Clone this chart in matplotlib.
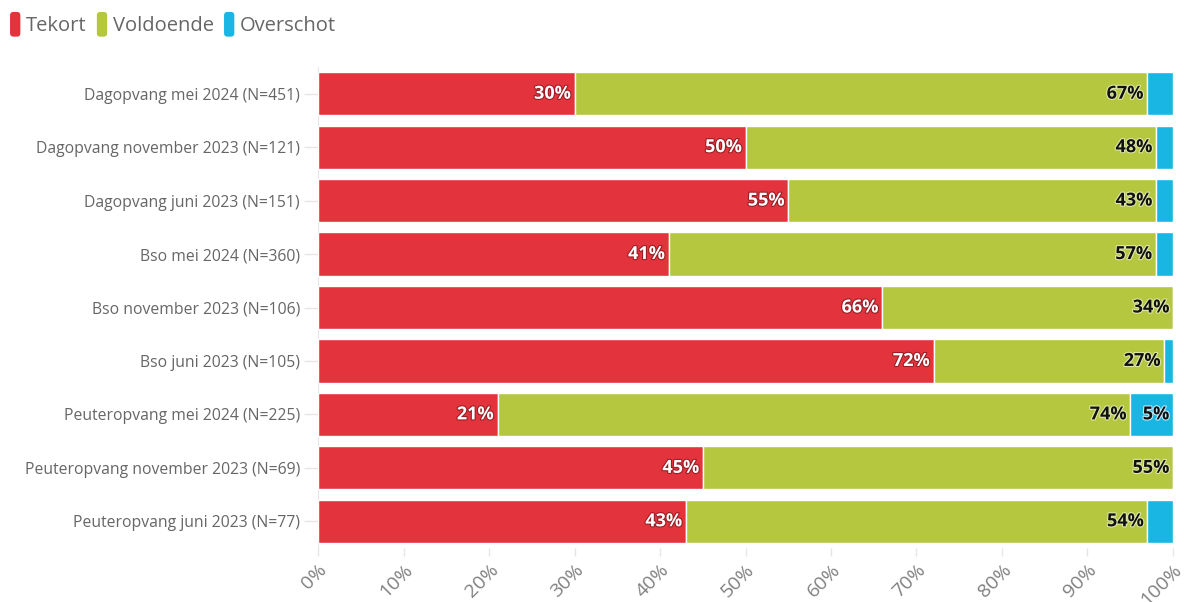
import matplotlib.pyplot as plt
import matplotlib.patheffects as pe
import matplotlib.transforms as mtransforms
from matplotlib.patches import Patch, FancyBboxPatch
from matplotlib.legend_handler import HandlerPatch
from matplotlib.ticker import MultipleLocator, PercentFormatter

plt.rcParams['font.family'] = ['Open Sans', 'DejaVu Sans']

groepen = ['Dagopvang mei 2024 (N=451)', 'Dagopvang november 2023 (N=121)',
           'Dagopvang juni 2023 (N=151)', 'Bso mei 2024 (N=360)',
           'Bso november 2023 (N=106)', 'Bso juni 2023 (N=105)',
           'Peuteropvang mei 2024 (N=225)', 'Peuteropvang november 2023 (N=69)',
           'Peuteropvang juni 2023 (N=77)']
tekort = [30, 50, 55, 41, 66, 72, 21, 45, 43]
voldoende = [67, 48, 43, 57, 34, 27, 74, 55, 54]
overschot = [3, 2, 2, 2, 0, 1, 5, 0, 3]

reeksen = ['Tekort', 'Voldoende', 'Overschot']
kleuren = ['#e3343e', '#b5c73f', '#19b6e3']
labelkleur = ['white', '#111111', '#111111']
randkleur = ['#9b1d24', '#dfe8a8', '#bfe9f6']


class RondHandler(HandlerPatch):
    def create_artists(self, legend, orig_handle, xdescent, ydescent,
                       width, height, fontsize, trans):
        p = FancyBboxPatch((-xdescent + 1, -ydescent - 1), width - 2, height + 2,
                           boxstyle='round,pad=0,rounding_size=2.5',
                           facecolor=orig_handle.get_facecolor(),
                           edgecolor='none', transform=trans)
        return [p]


fig = plt.figure(figsize=(11.84, 6.02), dpi=100)
ax = fig.add_axes([0.2686, 0.0897, 0.7221, 0.799])

y = list(range(len(groepen)))
links = [0] * len(groepen)
for naam, waarden, kleur, lk, rk in zip(reeksen, [tekort, voldoende, overschot],
                                        kleuren, labelkleur, randkleur):
    bars = ax.barh(y, waarden, left=links, height=0.81, color=kleur,
                   edgecolor='white', linewidth=1, label=naam, zorder=3)
    for b, w in zip(bars, waarden):
        if w >= 5:
            ax.text(b.get_x() + b.get_width() - 0.45, b.get_y() + b.get_height() / 2,
                    f'{w}%', ha='right', va='center', color=lk, fontsize=13,
                    fontweight='bold', zorder=4,
                    path_effects=[pe.withStroke(linewidth=1.6, foreground=rk)])
    links = [l + w for l, w in zip(links, waarden)]

ax.set_xlim(0, 100)
ax.set_ylim(len(groepen) - 0.5, -0.5)
ax.set_yticks(y)
ax.set_yticklabels(groepen, fontsize=11.3, color='#666666')
ax.xaxis.set_major_locator(MultipleLocator(10))
ax.xaxis.set_major_formatter(PercentFormatter(decimals=0))
schuif = mtransforms.ScaledTranslation(6 / 100, 0, fig.dpi_scale_trans)
for lbl in ax.get_xticklabels():
    lbl.set_rotation(45)
    lbl.set_ha('right')
    lbl.set_rotation_mode('anchor')
    lbl.set_transform(lbl.get_transform() + schuif)
ax.tick_params(axis='x', labelsize=14, labelcolor='#808080', color='#e6e6e6',
               length=6, width=1, pad=3)
ax.tick_params(axis='y', color='#e6e6e6', length=10, width=1, pad=3)
for s in ax.spines.values():
    s.set_visible(False)
ax.spines['left'].set_visible(True)
ax.spines['left'].set_color('#e6e6e6')

handles = [Patch(facecolor=k) for k in kleuren]
fig.legend(handles, reeksen, loc='upper left', bbox_to_anchor=(-0.008, 1.008),
           frameon=False, ncol=3, fontsize=14.5, handlelength=0.65, handleheight=1.3,
           handletextpad=0.2, columnspacing=0.45, labelcolor='#666666',
           handler_map={Patch: RondHandler()})

fig.savefig('out.png', dpi=100)
